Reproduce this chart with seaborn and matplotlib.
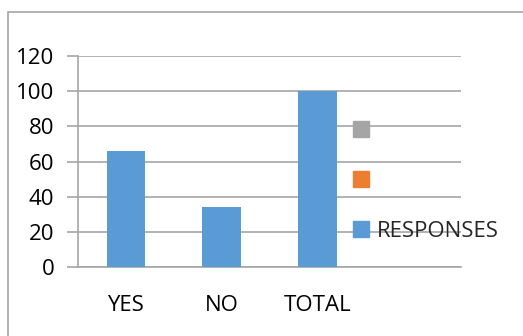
import matplotlib
matplotlib.use("Agg")
import matplotlib.pyplot as plt
import seaborn as sns
import pandas as pd
from matplotlib.lines import Line2D
from matplotlib.patches import Rectangle

categories = ["YES", "NO", "TOTAL"]
responses = [66, 34, 100]
y_ticks = [0, 20, 40, 60, 80, 100, 120]
legend_labels = ["", "", "RESPONSES"]
legend_colors = ["#A5A5A5", "#ED7D31", "#5B9BD5"]

sns.set_style("white")
plt.rcParams["font.family"] = ["Open Sans", "DejaVu Sans"]

W, H = 523, 336
fig = plt.figure(figsize=(W / 100, H / 100), dpi=100)
ax = fig.add_axes([78 / W, 1 - 267 / H, (461 - 78) / W, (267 - 56) / H])

df = pd.DataFrame({"cat": categories, "val": responses})
sns.barplot(data=df, x="cat", y="val", color="#5B9BD5", width=0.4, ax=ax,
            saturation=1, zorder=3, linewidth=0)

grid_c = "#A6A6A6"
ax.set_xlim(-0.5, 3.5)
ax.set_ylim(0, 120)
ax.set_yticks(y_ticks)
ax.set_yticklabels([str(v) for v in y_ticks])
ax.yaxis.grid(True, color=grid_c, linewidth=1.2, zorder=0)
ax.xaxis.grid(False)
ax.set_axisbelow(True)
ax.set_xlabel("")
ax.set_ylabel("")

for s in ["top", "right"]:
    ax.spines[s].set_visible(False)
for s in ["left", "bottom"]:
    ax.spines[s].set_color(grid_c)
    ax.spines[s].set_linewidth(1.2)

fs = 16
ax.set_xticks(range(len(categories)))
ax.set_xticklabels(categories)
ax.set_xticks([-0.5, 0.5, 1.5, 2.5, 3.5], minor=True)
ax.tick_params(axis="x", which="major", length=0, pad=20, labelsize=fs, labelcolor="black")
ax.tick_params(axis="x", which="minor", length=6, width=1.2, color=grid_c, direction="out")
ax.tick_params(axis="y", which="major", length=8, width=1.2, color=grid_c, direction="out",
               pad=9, labelsize=fs, labelcolor="black", left=True)

handles = [Line2D([], [], marker="s", linestyle="none", markersize=11,
                  markerfacecolor=c, markeredgecolor=c) for c in legend_colors]
leg = ax.legend(handles, legend_labels, loc="upper left",
                bbox_to_anchor=((352 - 78) / (461 - 78), (267 - 121) / (267 - 56)),
                frameon=False, fontsize=fs, labelspacing=1.3, handlelength=0.8,
                handletextpad=0.3, borderaxespad=0, borderpad=0)

fig.patches.append(Rectangle((8 / W, -0.1), 1.2, 1.1 - 12 / H, transform=fig.transFigure,
                             fill=False, edgecolor="#A6A6A6", linewidth=1.2))

fig.savefig("out.png", dpi=100)
